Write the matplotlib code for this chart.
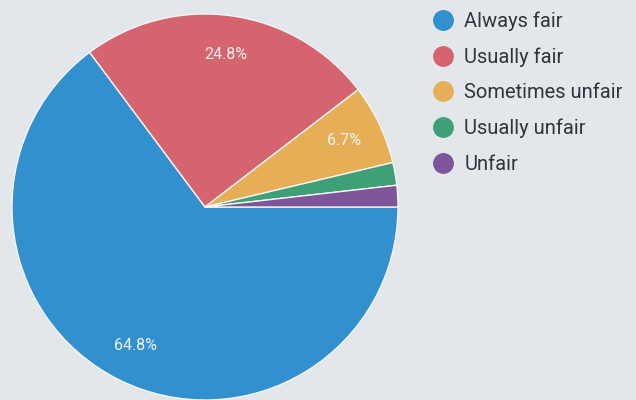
import matplotlib
matplotlib.use("Agg")
import matplotlib.pyplot as plt
from matplotlib.lines import Line2D

# survey answers, percent of responses
labels = ["Always fair", "Usually fair", "Sometimes unfair", "Usually unfair", "Unfair"]
shares = [64.8, 24.8, 6.7, 1.9, 1.8]
colors = ["#3190cd", "#d6646f", "#e6ae57", "#3f9f76", "#7c559b"]

bg = "#e3e7eb"
fig = plt.figure(figsize=(6.36, 4.0), dpi=100, facecolor=bg)

# square axes so the pie sits like in the screenshot
ax = fig.add_axes([12 / 636, 0.0, 386 / 636, 386 / 400])
ax.set_facecolor(bg)


def pct(v):
    return "%.1f%%" % v if v > 5 else ""


wedges, texts, autotexts = ax.pie(
    shares, colors=colors, startangle=0, counterclock=False,
    autopct=pct, pctdistance=0.8,
    wedgeprops=dict(edgecolor="#f4f4f4", linewidth=1.0),
    textprops=dict(color="#f2f2f2", fontsize=11.5, family="Roboto"),
)
ax.set_xlim(-1, 1)
ax.set_ylim(-1, 1)
ax.axis("off")

handles = [Line2D([], [], marker="o", linestyle="", markersize=14,
                  markerfacecolor=c, markeredgecolor=c) for c in colors]
leg = fig.legend(handles, labels, loc="upper left",
                 bbox_to_anchor=(425 / 636, 1.0 - 3 / 400),
                 frameon=False, handlelength=1.0, handletextpad=0.55,
                 labelspacing=0.82, borderaxespad=0,
                 prop=dict(family="Roboto", size=14.5))
for t in leg.get_texts():
    t.set_color("#30353b")

fig.savefig("out.png", dpi=100, facecolor=bg)
